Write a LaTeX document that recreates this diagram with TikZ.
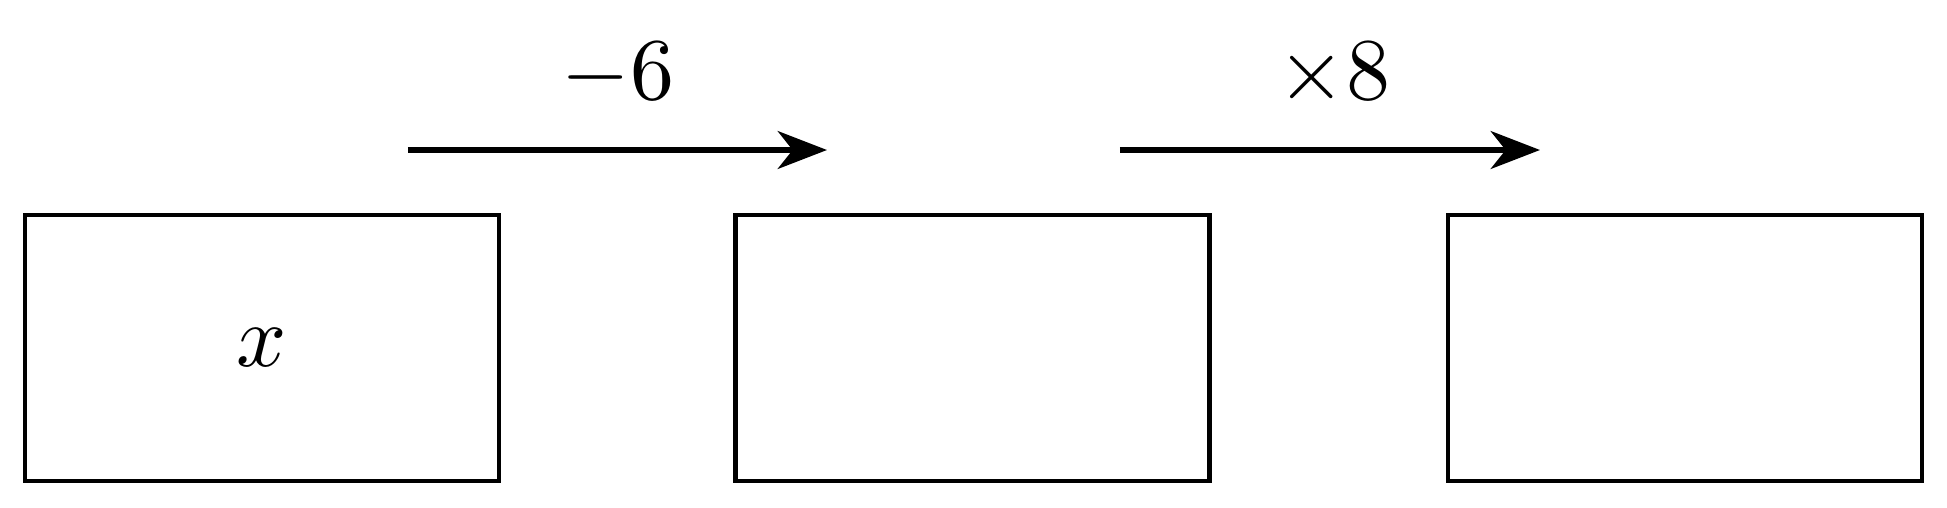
\documentclass[tikz,border=0pt]{standalone}
\usetikzlibrary{arrows.meta}
\begin{document}
\begin{tikzpicture}[x=0.11362pt,y=-0.11362pt,
  valbox/.style={draw,line width=0.55pt,minimum width=53.86pt,minimum height=30.22pt,inner sep=0pt},
  oparrow/.style={line width=0.6pt,-{Stealth[length=5.6pt,width=4.3pt,inset=1.7pt]}},
  oplabel/.style={anchor=base,inner sep=0pt}]
\useasboundingbox (0,0) rectangle (1947,507);
\node[valbox] (b1) at (262,348) {$x$};
\node[valbox] (b2) at (972.5,348) {};
\node[valbox] (b3) at (1685,348) {};
\coordinate (a1s) at (408,150);
\coordinate (a1e) at (827,150);
\coordinate (a2s) at (1120,150);
\coordinate (a2e) at (1540,150);
\draw[oparrow] (a1s) -- (a1e);
\draw[oparrow] (a2s) -- (a2e);
\node[oplabel] (l1) at (618,99) {$-6$};
\node[oplabel] (l2) at (1334,99) {$\times 8$};
\end{tikzpicture}
\end{document}
